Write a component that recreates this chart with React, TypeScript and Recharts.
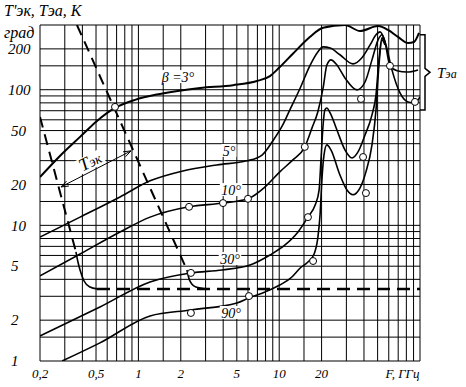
import { ComposedChart, Line, XAxis, YAxis, ReferenceLine, ReferenceDot } from 'recharts';

// F (GHz), T (K) pairs
const beta3: [number, number][] = [
  [0.2, 22.7], [0.277, 32.5], [0.385, 44.9], [0.508, 58.9], [0.682, 73.4], [0.946, 84.2],
  [1.42, 93.1], [2.74, 103], [4.7, 108], [6.95, 116], [8.6, 126], [10.1, 147], [12.5, 184],
  [16.5, 245], [20.5, 286], [29.3, 300], [37.5, 271], [50.4, 295], [59.3, 276], [69.8, 245],
  [82.2, 221], [90.6, 225], [98.4, 262],
];
const beta5: [number, number][] = [
  [0.2, 8.2], [0.385, 11.5], [0.74, 16.2], [1.21, 21.3], [2.07, 25.2], [3.61, 27.9], [5.9, 29.9],
  [7.55, 33], [9.0, 41.9], [10.6, 55], [11.9, 71], [14.1, 103], [16.5, 150], [18.8, 190],
  [20.5, 207], [23, 203], [27, 181], [33.4, 155], [38.7, 172], [44.2, 214], [48.7, 254],
  [52, 267], [56.4, 225], [61.2, 150], [68.7, 138], [80.9, 135], [96.8, 140],
];
const beta10: [number, number][] = [
  [0.2, 4.24], [0.385, 6.15], [0.74, 8.94], [1.21, 11.5], [2.29, 13.7], [3.99, 14.6], [6.0, 15.7],
  [7.93, 19.2], [10.1, 24.8], [12.5, 30.4], [15.2, 37.9], [17.1, 52.3], [18.8, 68.6], [20.5, 103],
  [21.8, 152], [23.3, 166], [25.7, 152], [29.3, 122], [35.7, 99.7], [40.7, 114], [45.6, 166],
  [50.4, 233], [53.7, 254], [57.3, 214], [63.2, 140], [72.1, 94.7], [82.2, 81.3], [92.1, 80],
  [100, 88.5],
];
const beta30: [number, number][] = [
  [0.2, 1.53], [0.533, 2.5], [1.21, 3.83], [2.36, 4.46], [3.93, 4.69], [6.2, 5.1], [8.6, 6.05],
  [11, 7.17], [13.6, 8.94], [16, 11.5], [18, 14.1], [19.2, 18.2], [19.8, 30.4], [20.5, 55],
  [21.1, 71], [21.8, 73.4], [23, 67.5], [25.7, 50.5], [29.3, 36], [32.9, 31.4], [36.3, 34.8],
  [40.7, 46.4], [45.6, 65.2], [48.7, 91.6], [51.1, 166], [53.7, 241], [56.4, 225],
];
const beta90: [number, number][] = [
  [0.287, 1], [0.533, 1.36], [1.21, 2.15], [2.36, 2.38], [5.01, 2.68], [6.1, 2.92], [7.93, 3.23],
  [10.1, 3.63], [12.3, 4.16], [14.1, 4.85], [16, 5.37], [17.7, 6.15], [18.8, 8.08], [19.5, 11.9],
  [20.1, 21.6], [20.8, 33], [21.8, 39.2], [23.3, 36], [27, 23.5], [30.3, 18.2], [33.4, 16.8],
  [37.5, 18.9], [41.3, 24.8], [45.6, 39.2], [48.7, 71], [51.1, 152], [53.7, 233], [56.4, 214],
];
// T'эк (dashed) and its bends into the common level
const tek1Dash: [number, number][] = [[0.366, 300], [2.21, 4.69]];
const tek1Bend: [number, number][] = [[2.21, 4.69], [2.32, 3.89], [2.56, 3.51], [3.07, 3.4]];
const tek2Dash: [number, number][] = [[0.2, 63], [0.36, 6.37]];
const tek2Bend: [number, number][] = [[0.36, 6.37], [0.372, 5.37], [0.385, 4.69], [0.411, 3.89], [0.453, 3.51], [0.508, 3.4]];
const tekLevel: [number, number][] = [[0.508, 3.4], [100, 3.4]];
// measured points
const measured: [number, number][] = [
  [0.682, 74.7], [2.29, 13.7], [3.99, 14.6], [6.0, 15.7], [15.2, 37.9], [2.36, 4.46], [6.1, 3.01],
  [2.36, 2.26], [16.0, 11.5], [17.4, 5.46], [39.4, 31.9], [41.3, 17.3], [38.1, 85.5], [61.2, 150],
  [92.1, 81.3],
];
const arrowTek: [number, number][] = [[0.282, 19.2], [0.886, 35.4]];

const xGrid = [0.2, 0.3, 0.4, 0.5, 0.6, 0.7, 0.8, 0.9, 1, 1.5, 2, 3, 4, 5, 6, 7, 8, 9, 10, 15, 20, 30, 40, 50, 60, 70, 80, 90, 100];
const yGrid = [1, 1.5, 2, 3, 4, 5, 6, 7, 8, 9, 10, 15, 20, 30, 40, 50, 60, 70, 80, 90, 100, 150, 200, 300];
const xTicks = [0.2, 0.5, 1, 2, 5, 10, 20, 75];
const xTickLabels = ['0,2', '0,5', '1', '2', '5', '10', '20', 'F,  ГГц'];
const yTicks = [1, 2, 5, 10, 20, 50, 100, 200];
const yTickLabels = ['1', '2', '5', '10', '20', '50', '100', '200'];

const curveNames = ['β =3°', '5°', '10°', '30°', '90°'];
const nameSpots: [number, number][] = [[1.91, 124], [4.4, 35.4], [4.55, 18.2], [4.47, 5.65], [4.55, 2.26]];

const toPts = (a: [number, number][]) => a.map(([f, t]) => ({ f, t }));

const FONT = "'Liberation Serif', 'DejaVu Serif', serif";

const XTick = (props: any) => {
  const { x, y, payload } = props;
  const i = xTicks.indexOf(payload.value);
  return (
    <text x={x} y={y + 9} textAnchor="middle" fontFamily={FONT} fontStyle="italic" fontSize={13} fill="#000">
      {xTickLabels[i]}
    </text>
  );
};

const YTick = (props: any) => {
  const { y, payload } = props;
  const i = yTicks.indexOf(payload.value);
  const s = yTickLabels[i];
  return (
    <text x={s.length === 3 ? 8 : 11} y={y} dy="0.35em" textAnchor="start" fontFamily={FONT} fontStyle="italic" fontSize={15} fill="#000">
      {s}
    </text>
  );
};

const ArrowDot = (props: any) => {
  const { cx, cy, index } = props;
  const ang = Math.atan2(-35, 70) + (index === 0 ? Math.PI : 0);
  const w = 0.35, L = 8;
  const a1 = ang + Math.PI - w, a2 = ang + Math.PI + w;
  const d = `M${cx + L * Math.cos(a1)},${cy + L * Math.sin(a1)} L${cx},${cy} L${cx + L * Math.cos(a2)},${cy + L * Math.sin(a2)}`;
  return <path key={index} d={d} stroke="#000" strokeWidth={1} fill="none" />;
};

const NameShape = (text: string) => (props: any) => {
  const { cx, cy } = props;
  const w = text.length * 7.5;
  return (
    <g>
      <rect x={cx - w / 2} y={cy - 7} width={w} height={13} fill="#fff" />
      <text x={cx} y={cy} dy="0.35em" textAnchor="middle" fontFamily={FONT} fontStyle="italic" fontSize={14} fill="#000">
        {text}
      </text>
    </g>
  );
};

const TekLabel = (props: any) => {
  const { cx, cy } = props;
  return (
    <g transform={`rotate(-27 ${cx} ${cy})`}>
      <rect x={cx - 14} y={cy - 9} width={28} height={15} fill="#fff" />
      <text x={cx} y={cy + 4} textAnchor="middle" fontFamily={FONT} fontStyle="italic" fontSize={18} fill="#000">
        Т<tspan fontSize={14}>эк</tspan>
      </text>
    </g>
  );
};

const Brace = (props: any) => {
  const { x1, y1, y2 } = props;
  const x = x1 + 5;
  const mid = (y1 + y2) / 2;
  const d = `M${x1},${y1} L${x},${y1} L${x},${mid - 4} L${x + 5},${mid} L${x},${mid + 4} L${x},${y2} L${x1},${y2}`;
  return (
    <g>
      <path d={d} stroke="#000" strokeWidth={1.5} fill="none" />
      <text x={x + 12} y={mid} dy="0.35em" fontFamily={FONT} fontStyle="italic" fontSize={15} fill="#000">
        Т<tspan fontSize={12}>эа</tspan>
      </text>
    </g>
  );
};

const curves = [
  { key: 'b3', data: beta3, w: 2 },
  { key: 'b5', data: beta5, w: 1.6 },
  { key: 'b10', data: beta10, w: 1.6 },
  { key: 'b30', data: beta30, w: 1.6 },
  { key: 'b90', data: beta90, w: 1.6 },
];

export default function App() {
  return (
    <div style={{ position: 'fixed', left: 0, top: 0, width: 466, height: 387, background: '#fff' }}>
      <div style={{ position: 'absolute', left: 4, top: 2, fontFamily: FONT, fontStyle: 'italic', fontSize: 16 }}>
        Т'эк, Тэа, К
      </div>
      <div style={{ position: 'absolute', left: 4, top: 24, fontFamily: FONT, fontStyle: 'italic', fontSize: 16 }}>
        град
      </div>
      <ComposedChart width={466} height={387} margin={{ top: 25, right: 46, bottom: 0, left: 0 }}>
        <XAxis
          dataKey="f"
          type="number"
          scale="log"
          domain={[0.2, 100]}
          allowDataOverflow
          ticks={xTicks}
          interval={0}
          tick={<XTick />}
          tickLine={false}
          axisLine={false}
          height={26}
        />
        <YAxis
          dataKey="t"
          type="number"
          scale="log"
          domain={[1, 300]}
          allowDataOverflow
          ticks={yTicks}
          interval={0}
          tick={<YTick />}
          tickLine={false}
          axisLine={false}
          width={40}
        />
        {xGrid.map((v) => (
          <ReferenceLine key={'gx' + v} x={v} stroke="#000" strokeWidth={1} />
        ))}
        {yGrid.map((v) => (
          <ReferenceLine key={'gy' + v} y={v} stroke="#000" strokeWidth={1} />
        ))}
        {curveNames.map((n, i) => (
          <ReferenceDot key={n} x={nameSpots[i][0]} y={nameSpots[i][1]} r={0} shape={NameShape(n)} />
        ))}
        <ReferenceDot x={0.46} y={28.8} r={0} shape={TekLabel} />
        <ReferenceLine segment={[{ x: 100, y: 254 }, { x: 100, y: 71 }]} ifOverflow="visible" shape={Brace} />
        {curves.map((c) => (
          <Line key={c.key} data={toPts(c.data)} dataKey="t" type="monotone" stroke="#000" strokeWidth={c.w} dot={false} activeDot={false} isAnimationActive={false} />
        ))}
        <Line data={toPts(tek1Dash)} dataKey="t" type="linear" stroke="#000" strokeWidth={2} strokeDasharray="11 7" dot={false} activeDot={false} isAnimationActive={false} />
        <Line data={toPts(tek2Dash)} dataKey="t" type="linear" stroke="#000" strokeWidth={2} strokeDasharray="11 7" dot={false} activeDot={false} isAnimationActive={false} />
        <Line data={toPts(tek1Bend)} dataKey="t" type="monotone" stroke="#000" strokeWidth={1.6} dot={false} activeDot={false} isAnimationActive={false} />
        <Line data={toPts(tek2Bend)} dataKey="t" type="monotone" stroke="#000" strokeWidth={1.6} dot={false} activeDot={false} isAnimationActive={false} />
        <Line data={toPts(tekLevel)} dataKey="t" type="linear" stroke="#000" strokeWidth={2.5} strokeDasharray="13 7" dot={false} activeDot={false} isAnimationActive={false} />
        <Line data={toPts(arrowTek)} dataKey="t" type="linear" stroke="#000" strokeWidth={1} dot={<ArrowDot />} activeDot={false} isAnimationActive={false} />
        <Line data={toPts(measured)} dataKey="t" type="linear" stroke="none" dot={{ r: 3.5, fill: '#fff', stroke: '#000', strokeWidth: 1 }} activeDot={false} isAnimationActive={false} />
      </ComposedChart>
    </div>
  );
}
